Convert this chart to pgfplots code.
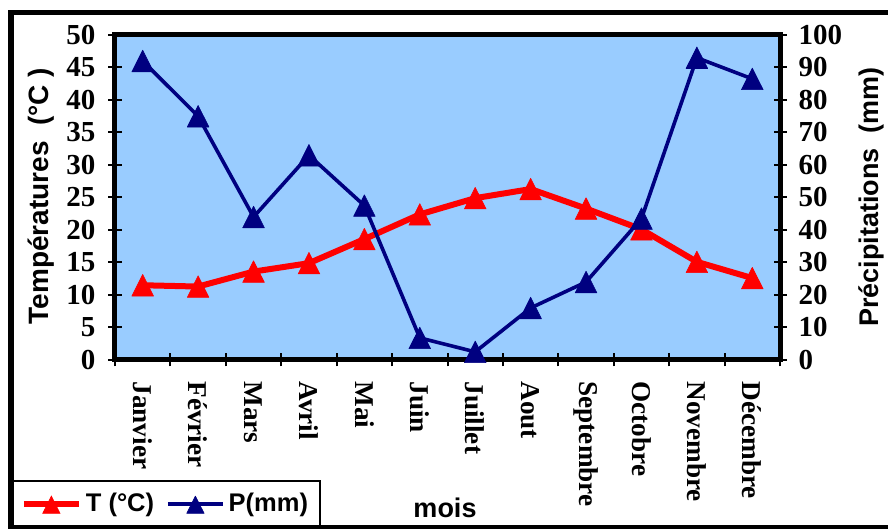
\documentclass[border=0pt]{standalone}
\usepackage{pgfplots}
\usepackage{pgfplotstable}
\pgfplotsset{compat=1.18}
\usepackage{fontspec}
\setmainfont{Liberation Serif}
\newfontfamily\arialfont{Liberation Sans}
\definecolor{plotbg}{RGB}{153,204,255}
\definecolor{navy}{RGB}{0,0,128}
\definecolor{tred}{RGB}{255,0,0}

% m: month index, T: temperature (deg C), P: precipitation (mm)
\pgfplotstableread{
m T P
1 11.5 92
2 11.3 75
3 13.6 44
4 14.9 63
5 18.6 47.5
6 22.4 6.8
7 24.9 2.5
8 26.3 16
9 23.3 24
10 20.1 43.5
11 15.1 93
12 12.6 86.5
}\climat

\pgfplotsset{
  common/.style={
    scale only axis, width=332.5pt, height=162.5pt,
    at={(57.5pt,84.5pt)}, anchor=south west,
    xmin=0.5, xmax=12.5, clip=false,
    tick align=center, major tick length=6.5pt,
    tick style={black, line width=1pt},
    /pgf/number format/assume math mode=true,
    ticklabel style={font=\bfseries\fontsize{14.5}{15}\selectfont},
  },
  trimark/.style={mark=triangle*, mark size=6.25pt,
    mark options={solid, line width=0.3pt, yshift=-1.8pt, yscale=1.15}},
}

\begin{document}
\begin{tikzpicture}
\useasboundingbox (0,0) rectangle (444pt,264.5pt);

\begin{axis}[common,
  ymin=0, ymax=50, ytick={0,5,...,50}, ytick pos=left,
  yticklabel style={xshift=-3pt},
  axis background/.style={fill=plotbg},
  axis line style={line width=2.5pt},
  xtick={0.5,1.5,...,12.5}, xtick pos=bottom,
  x tick label as interval,
  xticklabels={Janvier,Février,Mars,Avril,Mai,Juin,Juillet,Aout,Septembre,Octobre,Novembre,Décembre},
  xticklabel style={rotate=-90, anchor=west, xshift=4pt,
    font=\bfseries\fontsize{13.6}{15}\selectfont},
]
\addplot[tred, line width=3pt, line join=round, trimark] table[x=m,y=T]{\climat};
\end{axis}

\begin{axis}[common,
  ymin=0, ymax=100, ytick={0,10,...,100},
  yticklabel style={xshift=2.5pt},
  axis x line=none, axis y line*=right,
  axis line style={line width=2.5pt, -},
  legend style={at={(0.0774,-0.443)}, anchor=center, draw=none, fill=none,
    legend columns=2,
    font=\arialfont\bfseries\fontsize{12.75}{14}\selectfont,
    /tikz/every even column/.append style={column sep=4pt}},
  legend image code/.code={\draw[#1, mark repeat=2, mark phase=2,
      every mark/.append style={scale=0.8}]
    plot coordinates {(0pt,0pt) (13.75pt,0pt) (27.5pt,0pt)};},
]
\addlegendimage{tred, line width=3pt, trimark}
\addlegendentry{T (°C)}
\addplot[navy, line width=1.8pt, line join=round, trimark] table[x=m,y=P]{\climat};
\addlegendentry{P(mm)}
\end{axis}

% legend frame and outer frame
\draw[line width=0.8pt] (6.5pt,1pt) rectangle (160pt,24pt);
\draw[line width=2.75pt] (5.5pt,0.5pt) rectangle (460pt,258.25pt);

% axis titles
\node[rotate=90, anchor=base, inner sep=0pt, font=\arialfont\bfseries\fontsize{14}{16}\selectfont]
  at (24pt,166.5pt) {Températures\ \ (°C )};
\node[rotate=90, anchor=base, inner sep=0pt, font=\arialfont\bfseries\fontsize{13.5}{16}\selectfont]
  at (439pt,166pt) {Précipitations\ \ (mm)};
\node[anchor=base, inner sep=0pt, font=\arialfont\bfseries\fontsize{13.5}{16}\selectfont]
  at (222.5pt,5.5pt) {mois};
\end{tikzpicture}
\end{document}
